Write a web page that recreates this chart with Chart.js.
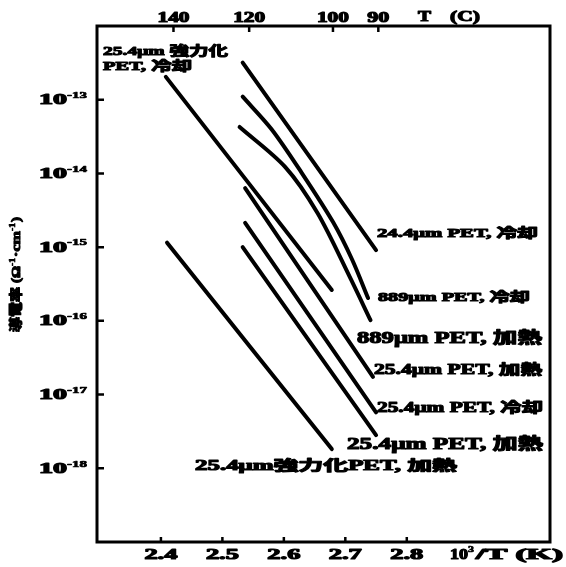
<!DOCTYPE html>
<html>
<head>
<meta charset="utf-8">
<script src="https://cdn.jsdelivr.net/npm/chart.js@4.4.1/dist/chart.umd.min.js"></script>
<style>
  html, body { margin: 0; padding: 0; background: #fff; }
</style>
</head>
<body>
<canvas id="chart" width="566" height="567"></canvas>
<script>
// conductivity (ohm^-1 cm^-1) against 10^3/T for PET films
const sampleNames = [
  "25.4μm 強力化 PET, 冷却",
  "24.4μm PET, 冷却",
  "889μm PET, 冷却",
  "889μm PET, 加熱",
  "25.4μm PET, 加熱",
  "25.4μm PET, 冷却",
  "25.4μm PET, 加熱",
  "25.4μm強力化PET, 加熱"
];

const invT_1 = [2.408, 2.678];
const sigma_1 = [2.04e-13, 2.63e-16];
const invT_2 = [2.533, 2.750];
const sigma_2 = [3.18e-13, 9.1e-16];
const invT_3 = [2.533, 2.580, 2.629, 2.680, 2.711, 2.737];
const sigma_3 = [1.10e-13, 3.98e-14, 1.02e-14, 2.19e-15, 6.8e-16, 2.04e-16];
const invT_4 = [2.528, 2.602, 2.655, 2.707, 2.741];
const sigma_4 = [4.27e-14, 1.23e-14, 2.88e-15, 3.98e-16, 1.02e-16];
const invT_5 = [2.537, 2.745];
const sigma_5 = [6.3e-15, 1.74e-17];
const invT_6 = [2.537, 2.750];
const sigma_6 = [2.14e-15, 5.75e-18];
const invT_7 = [2.533, 2.750];
const sigma_7 = [1.0e-15, 2.82e-18];
const invT_8 = [2.410, 2.678];
const sigma_8 = [1.15e-15, 1.82e-18];

const xTicks = [2.4, 2.5, 2.6, 2.7, 2.8];
const xTickLabels = ["2.4", "2.5", "2.6", "2.7", "2.8"];
const yTicks = [1e-13, 1e-14, 1e-15, 1e-16, 1e-17, 1e-18];
const tempTicks = [140, 120, 100, 90];   // deg C on the top axis

const X_MIN = 2.296, X_MAX = 3.033;

const series = [
  [invT_1, sigma_1], [invT_2, sigma_2], [invT_3, sigma_3], [invT_4, sigma_4],
  [invT_5, sigma_5], [invT_6, sigma_6], [invT_7, sigma_7], [invT_8, sigma_8]
];

const datasets = series.map(([xs, ys], i) => ({
  label: sampleNames[i],
  data: xs.map((x, j) => ({ x: x, y: ys[j] })),
  borderColor: "#000",
  borderWidth: 4,
  borderCapStyle: "round",
  borderJoinStyle: "round",
  pointRadius: 0,
  tension: 0.3,
  fill: false
}));

const SERIF = "'Liberation Serif', 'DejaVu Serif', 'Noto Sans CJK JP', serif";

// draws heavy text stretched horizontally to a given width (the print uses wide glyphs)
function fitText(ctx, text, x, y, w, size, align) {
  ctx.font = "bold " + size + "px " + SERIF;
  const m = ctx.measureText(text).width;
  const sx = w / m;
  ctx.save();
  let left = x;
  if (align === "center") left = x - w / 2;
  if (align === "right") left = x - w;
  ctx.translate(left, y);
  ctx.scale(sx, 1);
  ctx.textAlign = "left";
  ctx.textBaseline = "middle";
  ctx.lineWidth = size > 10 ? 1.1 : 0.7;
  ctx.lineJoin = "round";
  ctx.strokeText(text, 0, 0);
  ctx.fillText(text, 0, 0);
  ctx.restore();
}

// where each curve label sits: [x, y, width, font size]
const labelBoxes = [
  null,
  [377, 234, 161, 13],
  [378, 298, 152, 13],
  [357, 339, 185, 16],
  [374, 370, 168, 14],
  [377, 408, 166, 14],
  [347, 445, 196, 16],
  [195, 466, 262, 14]
];

const decorations = {
  id: "decorations",
  afterDraw(chart) {
    const ctx = chart.ctx;
    const a = chart.chartArea;
    const sx = chart.scales.x, sx2 = chart.scales.x2, sy = chart.scales.y;
    ctx.save();
    ctx.fillStyle = "#000";
    ctx.strokeStyle = "#000";

    // frame
    ctx.lineWidth = 3;
    ctx.strokeRect(a.left, a.top, a.right - a.left, a.bottom - a.top);

    // inward tick marks
    ctx.lineWidth = 2.5;
    ctx.beginPath();
    xTicks.forEach(v => {
      const px = sx.getPixelForValue(v);
      ctx.moveTo(px, a.bottom);
      ctx.lineTo(px, a.bottom - 5);
    });
    tempTicks.forEach(t => {
      const px = sx2.getPixelForValue(1000 / (t + 273.15));
      ctx.moveTo(px, a.top);
      ctx.lineTo(px, a.top + 6);
    });
    yTicks.forEach(v => {
      const py = sy.getPixelForValue(v);
      ctx.moveTo(a.left, py);
      ctx.lineTo(a.left + 7, py);
    });
    ctx.stroke();

    // bottom tick labels and axis name
    xTicks.forEach((v, i) => {
      fitText(ctx, xTickLabels[i], sx.getPixelForValue(v), 555, 33, 14, "center");
    });
    fitText(ctx, "10", 450, 555, 18, 14, "left");
    fitText(ctx, "3", 468, 550, 6, 9, "left");
    fitText(ctx, "/T (K)", 476, 555, 87, 14, "left");

    // top tick labels and axis name
    tempTicks.forEach(t => {
      const px = sx2.getPixelForValue(1000 / (t + 273.15));
      fitText(ctx, String(t), px, 18, t >= 100 ? 32 : 22, 14, "center");
    });
    fitText(ctx, "T", 418, 17, 13, 14, "left");
    fitText(ctx, "(C)", 450, 17, 30, 14, "left");

    // left tick labels 10^n
    yTicks.forEach(v => {
      const py = sy.getPixelForValue(v);
      const e = Math.round(Math.log10(v));
      fitText(ctx, "10", 39, py + 1, 28, 14, "left");
      fitText(ctx, "-" + Math.abs(e), 67, py - 4, 20, 9, "left");
    });

    // vertical axis name
    ctx.save();
    ctx.translate(17, 266);
    ctx.rotate(-Math.PI / 2);
    fitText(ctx, "導電率 (Ω", -66, 0, 66, 13, "left");
    fitText(ctx, "-1", 0, -4, 8, 8, "left");
    fitText(ctx, "·cm", 9, 0, 26, 13, "left");
    fitText(ctx, "-1", 35, -4, 8, 8, "left");
    fitText(ctx, ")", 44, 0, 5, 13, "left");
    ctx.restore();

    // curve labels
    fitText(ctx, "25.4μm 強力化", 103, 52, 125, 13, "left");
    fitText(ctx, "PET, 冷却", 103, 67, 89, 13, "left");
    labelBoxes.forEach((b, i) => {
      if (!b) return;
      fitText(ctx, sampleNames[i], b[0], b[1], b[2], b[3], "left");
    });
    ctx.restore();
  }
};

new Chart(document.getElementById("chart"), {
  type: "line",
  data: { datasets: datasets },
  options: {
    responsive: false,
    animation: false,
    devicePixelRatio: 1,
    layout: { padding: { left: 0, right: 16, top: 0, bottom: 0 } },
    plugins: { legend: { display: false }, tooltip: { enabled: false } },
    scales: {
      x: {
        type: "linear", position: "bottom", min: X_MIN, max: X_MAX,
        ticks: { display: false }, grid: { display: false }, border: { display: false },
        afterFit: s => { s.height = 25; }
      },
      x2: {
        type: "linear", position: "top", min: X_MIN, max: X_MAX,
        ticks: { display: false }, grid: { display: false }, border: { display: false },
        afterFit: s => { s.height = 26; }
      },
      y: {
        type: "logarithmic", position: "left", min: 1e-19, max: 1e-12,
        ticks: { display: false }, grid: { display: false }, border: { display: false },
        afterFit: s => { s.width = 97; }
      }
    }
  },
  plugins: [decorations]
});
</script>
</body>
</html>
